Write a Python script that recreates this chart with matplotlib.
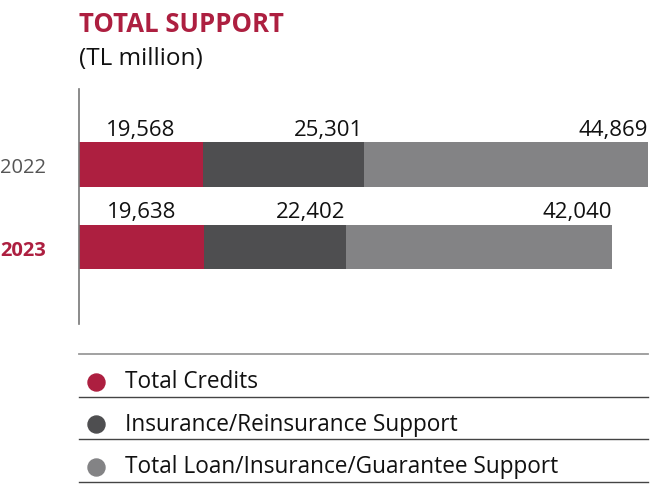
import numpy as np
import matplotlib
matplotlib.use("Agg")
import matplotlib.pyplot as plt

plt.rcParams['font.family'] = ['Open Sans', 'DejaVu Sans']

# datos del grafico
anios = ["2022", "2023"]
series = ["Total Credits", "Insurance/Reinsurance Support", "Total Loan/Insurance/Guarantee Support"]
creditos = [19568, 19638]
seguros = [25301, 22402]
totales = [44869, 42040]

colores = ["#ad1f40", "#4e4e50", "#838385"]
rojo = "#ad1f40"

fig = plt.figure(figsize=(6.72, 5.02), dpi=100)

# ejes de barras (coordenadas en fracciones de la figura)
W, H = 672, 502
ax = fig.add_axes([79 / W, 1 - 325 / H, (648 - 79) / W, 235 / H])

y = np.arange(len(anios))
valores = [creditos, seguros, totales]
izquierda = np.zeros(len(anios))
alto = 0.545
for i, vals in enumerate(valores):
    vals = np.array(vals)
    ax.barh(y, vals, left=izquierda, height=alto, color=colores[i], linewidth=0)
    for j, v in enumerate(vals):
        if i == 0:
            xt, ha = izquierda[j] + v / 2, "center"
        else:
            xt, ha = izquierda[j] + v, "right"
        ax.text(xt, y[j] - alto / 2 - 0.03, f"{v:,}", ha=ha, va="bottom",
                fontsize=16, color="#111111")
    izquierda = izquierda + vals

ax.set_xlim(0, izquierda.max())
ax.set_ylim(1.933, -0.915)
ax.set_yticks(y)
ax.set_yticklabels(anios)
ax.tick_params(axis="y", length=0, pad=24, labelsize=14.5)
ax.tick_params(axis="x", bottom=False, labelbottom=False)
etq = ax.get_yticklabels()
etq[0].set_color("#555555")
etq[1].set_color(rojo)
etq[1].set_fontweight("bold")
for s in ["top", "right", "bottom"]:
    ax.spines[s].set_visible(False)
ax.spines["left"].set_color("#777777")
ax.spines["left"].set_linewidth(1.2)

# titulo
fig.text(79 / W, 1 - 25 / H, "TOTAL SUPPORT", fontsize=18.5, fontweight="bold",
         color=rojo, va="center", ha="left")
fig.text(79 / W, 1 - 59 / H, "(TL million)", fontsize=17.5, color="#111111",
         va="center", ha="left")

# leyenda dibujada a mano
lg = fig.add_axes([0, 0, 1, 1])
lg.set_xlim(0, W)
lg.set_ylim(H, 0)
lg.axis("off")
lineas_y = [355, 398, 440, 483]
for k, ly in enumerate(lineas_y):
    lg.plot([79, 648], [ly, ly], color="#9a9a9a" if k == 0 else "#444444",
            lw=1.3 if k == 0 else 1.0)
for k, nombre in enumerate(series):
    cy = (lineas_y[k] + lineas_y[k + 1]) / 2 + 6
    lg.scatter([96], [cy], s=150, color=colores[k], zorder=3)
    lg.text(125, cy, nombre, fontsize=16.3, va="center", ha="left", color="#111111")

fig.savefig("out.png", dpi=100)
